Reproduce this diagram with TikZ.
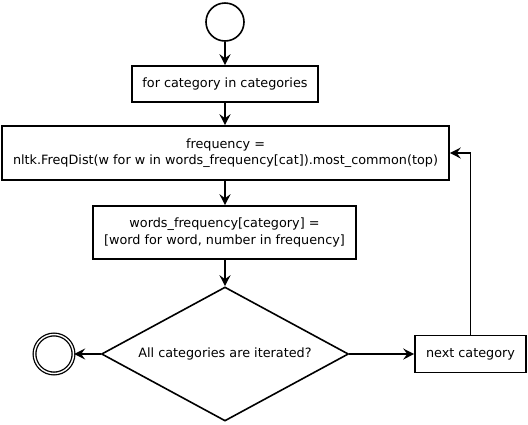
\documentclass[tikz,border=0pt]{standalone}
\usepackage{fontspec}
\setmainfont{DejaVu Sans}
\usetikzlibrary{shapes.geometric,arrows.meta}
\begin{document}
\begin{tikzpicture}[x=1pt,y=-1pt,
  line width=1.6pt,
  every node/.style={font=\fontsize{12.8}{16.5}\selectfont, align=center, inner sep=0pt},
  box/.style={draw, rectangle},
  arr/.style={-{Stealth[length=11pt,width=11pt,inset=4pt]}}]
\useasboundingbox (0,0) rectangle (528,424);
\node[draw, circle, minimum size=38pt] (start) at (225,22) {};
\node[box, minimum width=186pt, minimum height=36pt] (b1) at (225,84) {for category in categories};
\node[box, minimum width=447pt, minimum height=54pt] (b2) at (225.5,153) {frequency =\\nltk.FreqDist(w for w in words\_frequency[cat]).most\_common(top)};
\node[box, minimum width=263pt, minimum height=53pt] (b3) at (224.5,232.5) {words\_frequency[category] =\\{}[word for word, number in frequency]};
\node[draw, diamond, minimum width=247pt, minimum height=134pt, aspect=1.84] (d) at (225,354) {All categories are iterated?};
\node[draw, circle, double, double distance=1.4pt, line width=1.3pt, minimum size=39pt] (end) at (54,354) {};
\node[box, minimum width=111pt, minimum height=37pt] (b4) at (470.5,354) {next category};
\draw[arr] (start) -- (b1);
\draw[arr] (b1) -- (b1 |- b2.north);
\draw[arr] (b1 |- b2.south) -- (b1 |- b3.north);
\draw[arr] (b1 |- b3.south) -- (d);
\draw[arr] (d) -- (end);
\draw[arr] (d) -- (b4);
\draw[arr] (b4.north) |- (b2.east);
\end{tikzpicture}
\end{document}
